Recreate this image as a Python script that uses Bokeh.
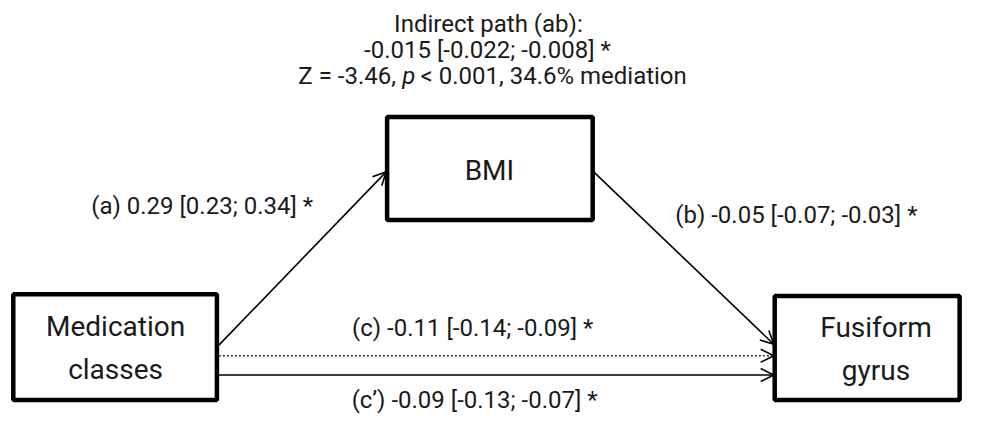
from bokeh.plotting import figure
from bokeh.models import Range1d, Arrow, OpenHead
from bokeh.core.properties import value
from bokeh.embed import file_html
from bokeh.resources import INLINE

# ---- content ----
node_names = ["BMI", "Medication\nclasses", "Fusiform\ngyrus"]
path_labels = ["(a) 0.29 [0.23; 0.34] *",
               "(b) -0.05 [-0.07; -0.03] *",
               "(c) -0.11 [-0.14; -0.09] *",
               "(c\u2019) -0.09 [-0.13; -0.07] *"]
indirect_title = "Indirect path (ab):"
indirect_ci = "-0.015 [-0.022; -0.008] *"
indirect_stats = ["Z = -3.46,", "p", "< 0.001, 34.6% mediation"]

FONT = "Roboto"
TXT = "#1a1a1a"
W, H = 967, 414
REF_W, REF_H = 983, 430   # layout below is in reference-image pixels

p = figure(width=W, height=H, output_backend="svg", toolbar_location=None,
           x_range=Range1d(0, REF_W), y_range=Range1d(REF_H, 0),
           min_border=0)
p.axis.visible = False
p.grid.visible = False
p.outline_line_color = None
p.background_fill_color = "white"

# boxes
boxes = dict(left=[393, 13, 787], right=[602, 220, 975],
             top=[121, 305, 307], bottom=[228, 415, 415])
p.quad(left=boxes["left"], right=boxes["right"], top=boxes["top"],
       bottom=boxes["bottom"], fill_color="white", line_color="black",
       line_width=4.5)

# node texts
p.text(x=[497, 117, 890], y=[177, 361, 362], text=node_names,
       text_align="center", text_baseline="middle", text_font=value(FONT),
       text_font_size="28px", text_color=TXT, text_line_height=1.3)

# arrows
head = dict(size=13, line_width=1.6, line_color="black")
p.add_layout(Arrow(end=OpenHead(**head), x_start=222, y_start=358,
                   x_end=392, y_end=178, line_width=1.6, line_color="black"))
p.add_layout(Arrow(end=OpenHead(**head), x_start=603, y_start=178,
                   x_end=786, y_end=357, line_width=1.6, line_color="black"))
p.add_layout(Arrow(end=OpenHead(**head), x_start=222, y_start=369,
                   x_end=786, y_end=369, line_width=1.5, line_color="#333333",
                   line_dash="2 2"))
p.add_layout(Arrow(end=OpenHead(**head), x_start=222, y_start=389,
                   x_end=786, y_end=389, line_width=1.6, line_color="black"))

# path labels
p.text(x=[205, 809, 480, 482], y=[213, 223, 340, 415], text=path_labels,
       text_align="center", text_baseline="middle", text_font=value(FONT),
       text_font_size="24px", text_color=TXT)

# indirect path annotation
p.text(x=[496, 495], y=[24, 51], text=[indirect_title, indirect_ci],
       text_align="center", text_baseline="middle", text_font=value(FONT),
       text_font_size="24px", text_color=TXT)
px = 415
p.text(x=[px - 13], y=[78], text=[indirect_stats[0]], text_align="right",
       text_baseline="middle", text_font=value(FONT), text_font_size="24px",
       text_color=TXT)
p.text(x=[px], y=[78], text=[indirect_stats[1]], text_align="center",
       text_baseline="middle", text_font=value(FONT), text_font_size="24px",
       text_font_style="italic", text_color=TXT)
p.text(x=[px + 12], y=[78], text=[indirect_stats[2]], text_align="left",
       text_baseline="middle", text_font=value(FONT), text_font_size="24px",
       text_color=TXT)

open("out.html", "w").write(file_html(p, INLINE))
